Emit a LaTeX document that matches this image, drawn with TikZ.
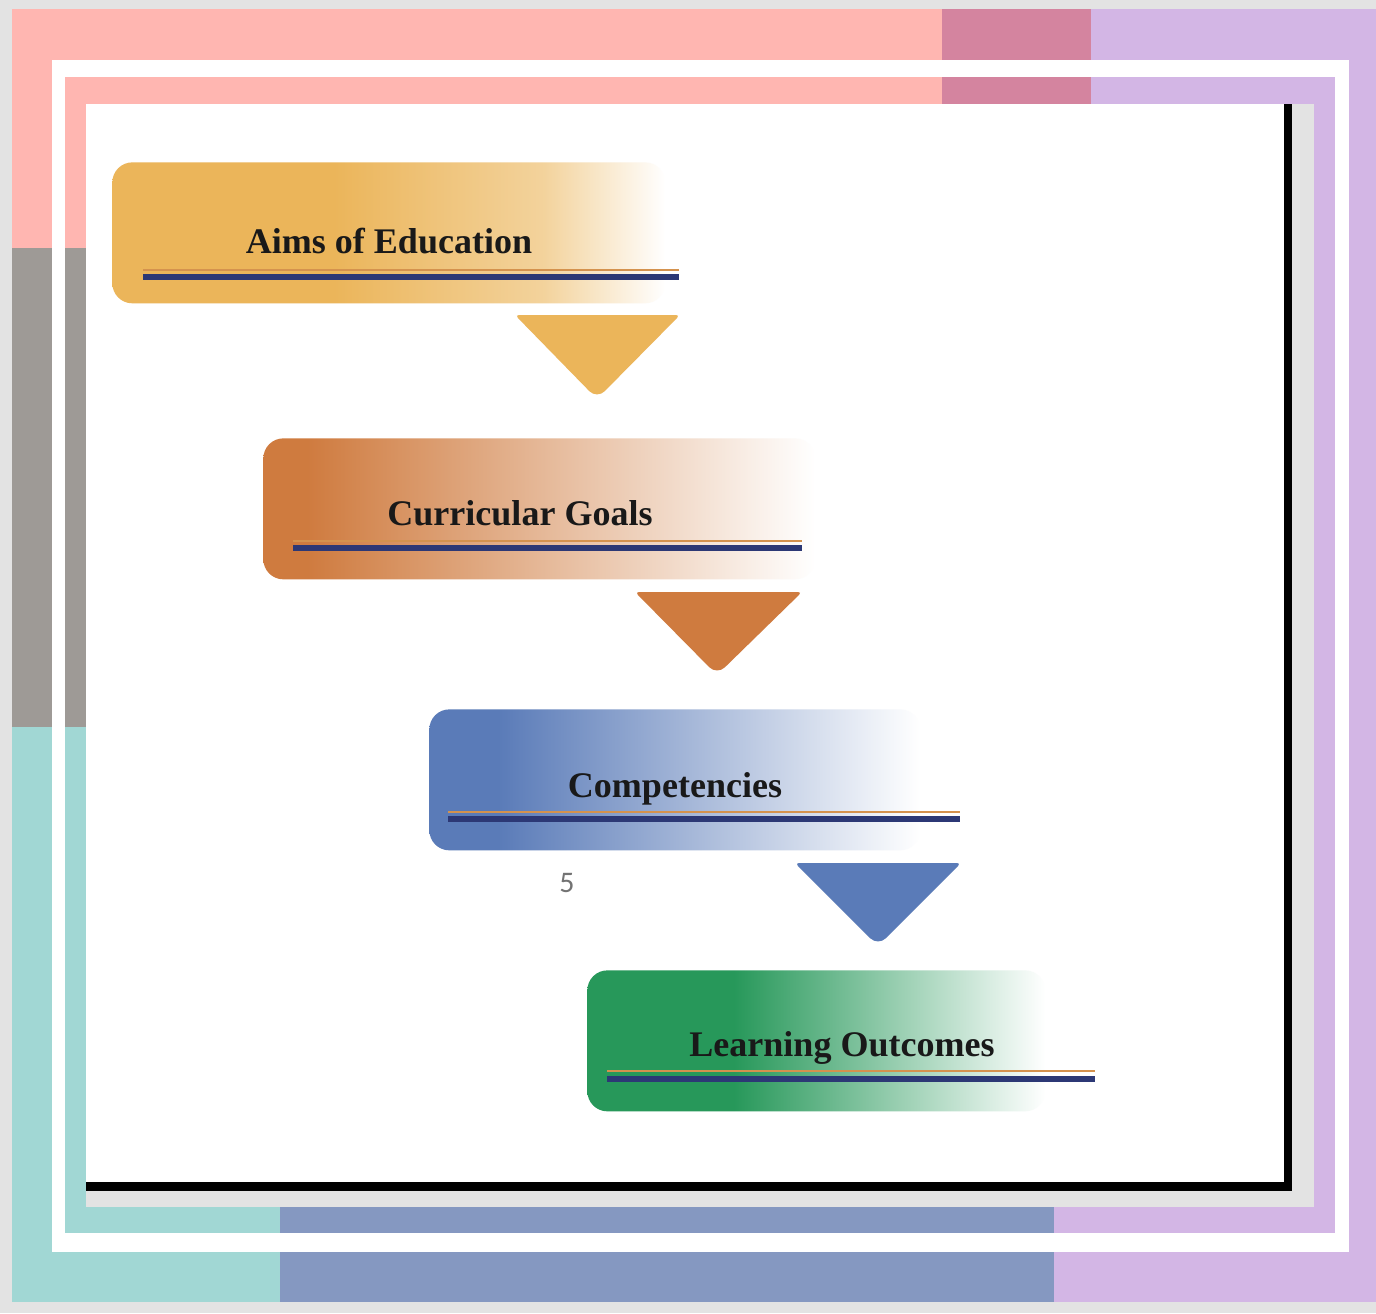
\documentclass[tikz,border=0pt]{standalone}
\usepackage{fontspec}
\setmainfont{Liberation Serif}
\newfontfamily\pagenumfont{Carlito}

\definecolor{marble}{HTML}{E3E3E3}
\definecolor{pinkband}{HTML}{FFB6B1}
\definecolor{roseband}{HTML}{D4849F}
\definecolor{lilacband}{HTML}{D3B6E5}
\definecolor{greyband}{HTML}{9E9A96}
\definecolor{tealband}{HTML}{A1D7D4}
\definecolor{slateband}{HTML}{8598C1}
\definecolor{aimscol}{HTML}{EBB55A}
\definecolor{goalcol}{HTML}{CF7B3F}
\definecolor{compcol}{HTML}{5A7BB8}
\definecolor{outcol}{HTML}{27985A}
\definecolor{rulenavy}{HTML}{2C3875}
\definecolor{ruleorange}{HTML}{D4924E}

\pgfdeclarehorizontalshading{aimsfade}{100bp}{color(0bp)=(aimscol); color(25bp)=(aimscol);
  color(45bp)=(aimscol); color(64bp)=(aimscol!60!white); color(75bp)=(white); color(100bp)=(white)}
\pgfdeclarehorizontalshading{goalfade}{100bp}{color(0bp)=(goalcol); color(25bp)=(goalcol);
  color(29bp)=(goalcol); color(75bp)=(white); color(100bp)=(white)}
\pgfdeclarehorizontalshading{compfade}{100bp}{color(0bp)=(compcol); color(25bp)=(compcol);
  color(32bp)=(compcol); color(75bp)=(white); color(100bp)=(white)}
\pgfdeclarehorizontalshading{outfade}{100bp}{color(0bp)=(outcol); color(25bp)=(outcol);
  color(41bp)=(outcol); color(75bp)=(white); color(100bp)=(white)}

\tikzset{
  banner/.style={rectangle, rounded corners=0.4cm, minimum height=2.82cm,
    inner sep=0pt, anchor=north west, shade},
  heading/.style={anchor=base, inner sep=0pt, text=black!90,
    font=\bfseries\fontsize{20.5}{24}\selectfont},
  orangerule/.style={ruleorange, line width=0.05cm},
  navyrule/.style={rulenavy, line width=0.12cm},
  downtip/.style={rounded corners=0.08cm}
}

\begin{document}
\begin{tikzpicture}[x=0.02cm, y=-0.02cm]
  % background and frame
  \fill[marble] (0,0) rectangle (1376,1313);
  \fill[white] (12,9) rectangle (1376,1302);
  \foreach \xa/\ya/\xb/\yb/\col in {
    12/9/942/60/pinkband, 942/9/1091/60/roseband, 1091/9/1376/60/lilacband,
    12/60/52/248/pinkband, 12/248/52/727/greyband, 12/727/52/1302/tealband,
    12/1252/280/1302/tealband, 280/1252/1054/1302/slateband,
    1054/1252/1376/1302/lilacband, 1349/60/1376/1252/lilacband,
    65/77/942/104/pinkband, 942/77/1091/104/roseband, 1091/77/1335/104/lilacband,
    65/104/86/248/pinkband, 65/248/86/727/greyband, 65/727/86/1233/tealband,
    65/1207/280/1233/tealband, 280/1207/1054/1233/slateband,
    1054/1207/1335/1233/lilacband, 1314/104/1335/1207/lilacband}
    \fill[\col] (\xa,\ya) rectangle (\xb,\yb);
  \fill[marble] (86,104) rectangle (1314,1207);
  \fill[black] (86,104) rectangle (1292,1191);
  \fill[white] (86,104) rectangle (1284,1182);

  % banners
  \node[banner, shading=aimsfade, minimum width=11.06cm] (aims) at (112,162) {};
  \node[banner, shading=goalfade, minimum width=11.04cm] (goals) at (263,438) {};
  \node[banner, shading=compfade, minimum width=9.82cm] (comp) at (429,709) {};
  \node[banner, shading=outfade, minimum width=9.16cm] (outcomes) at (587,970) {};

  \node[heading] (aimstext) at (389,253) {Aims of Education};
  \node[heading] (goalstext) at (520,525) {Curricular Goals};
  \node[heading] (comptext) at (675,797) {Competencies};
  \node[heading] (outtext) at (842,1056) {Learning Outcomes};

  % double rules
  \draw[orangerule] (143,270) -- (679,270); \draw[navyrule] (143,277) -- (679,277);
  \draw[orangerule] (293,541) -- (802,541); \draw[navyrule] (293,548) -- (802,548);
  \draw[orangerule] (448,812) -- (960,812); \draw[navyrule] (448,819) -- (960,819);
  \draw[orangerule] (607,1071) -- (1095,1071); \draw[navyrule] (607,1079) -- (1095,1079);

  % arrows
  \fill[aimscol, downtip] (515,315) -- (680,315) [rounded corners=0.22cm] -- (597,399)
    [rounded corners=0.08cm] -- cycle;
  \fill[goalcol, downtip] (635,592) -- (802,592) [rounded corners=0.22cm] -- (717,675)
    [rounded corners=0.08cm] -- cycle;
  \fill[compcol, downtip] (795,863) -- (961,863) [rounded corners=0.22cm] -- (878,946)
    [rounded corners=0.08cm] -- cycle;

  \node[text=black!55, font=\pagenumfont\fontsize{17}{20}\selectfont] (pagenum)
    at (567,883) {5};
\end{tikzpicture}
\end{document}
